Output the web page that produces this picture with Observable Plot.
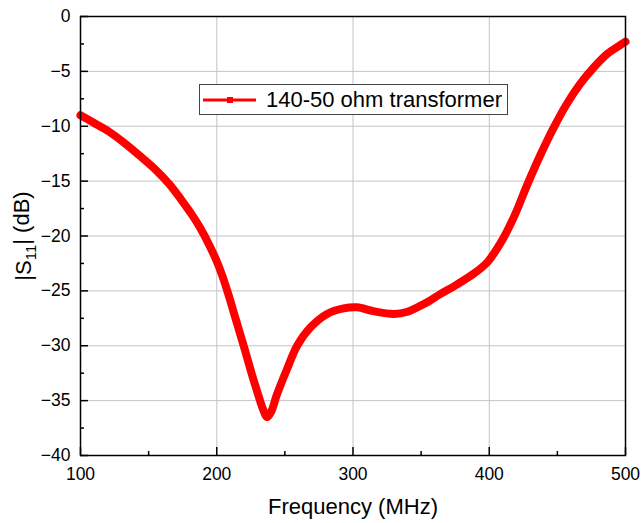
<!DOCTYPE html>
<html><head><meta charset="utf-8">
<script src="https://cdn.jsdelivr.net/npm/d3@7"></script>
<script src="https://cdn.jsdelivr.net/npm/@observablehq/plot@0.6"></script>
<style>
body{margin:0;background:#fff;}
#wrap{position:relative;width:641px;height:523px;font-family:"Liberation Sans",Arial,sans-serif;}
#legend{position:absolute;left:199px;top:84px;width:309px;height:31px;border:1px solid #444;background:#fff;box-sizing:border-box;display:flex;align-items:center;}
#legend span{font-size:22px;color:#000;margin-left:6px;white-space:nowrap;}
</style></head><body><div id="wrap"></div>
<script>
const freq = [100, 110, 121, 133, 145, 155, 165, 174, 182, 188, 194, 200, 204, 208, 214, 220, 226, 230, 234, 237, 240, 244, 252, 259, 269, 281, 293, 303, 315, 330, 340, 352, 364, 376.5, 389, 398.5, 408, 418, 428, 437.6, 447.4, 457, 467, 477, 486.6, 495, 500];
const s11  = [-9.0, -9.7, -10.5, -11.6, -12.85, -13.95, -15.25, -16.7, -18.1, -19.3, -20.7, -22.3, -23.6, -25.1, -27.6, -30.1, -32.7, -34.3, -35.8, -36.5, -36.0, -34.5, -32.0, -30.0, -28.3, -27.1, -26.6, -26.5, -26.85, -27.1, -26.9, -26.2, -25.3, -24.4, -23.4, -22.4, -20.7, -18.3, -15.3, -12.6, -10.1, -7.95, -6.1, -4.6, -3.4, -2.7, -2.3];
const xTicks = [100, 200, 300, 400, 500];
const xMinor = [150, 250, 350, 450];
const yTicks = [0, -5, -10, -15, -20, -25, -30, -35, -40];
const yMinor = [-2.5, -7.5, -12.5, -17.5, -22.5, -27.5, -32.5, -37.5];
const seriesName = "140-50 ohm transformer";
const xLabel = "Frequency (MHz)";
const yLabel = "|S11| (dB)";

const data = freq.map((f, i) => ({f, db: s11[i]}));
const font = '"Liberation Sans", Arial, sans-serif';

const plot = Plot.plot({
  width: 641, height: 523,
  marginLeft: 80, marginRight: 16, marginTop: 16, marginBottom: 68,
  style: {fontFamily: font, fontSize: "17.5px", color: "#000", background: "#fff"},
  x: {domain: [100, 500]},
  y: {domain: [-40, 0]},
  marks: [
    Plot.gridX(xTicks, {stroke: "#c4c4c4", strokeOpacity: 1, strokeWidth: 1}),
    Plot.gridY(yTicks, {stroke: "#c4c4c4", strokeOpacity: 1, strokeWidth: 1}),
    Plot.line(data, {x: "f", y: "db", stroke: "#ff0000", strokeWidth: 8, curve: "catmull-rom", strokeLinejoin: "round"}),
    Plot.axisX(xTicks, {tickSize: 8, dy: -8, text: null, label: null, strokeWidth: 1.5}),
    Plot.axisX(xMinor, {tickSize: 4, dy: -4, text: null, label: null, strokeWidth: 1.5}),
    Plot.axisY(yTicks, {tickSize: 8, dx: 8, text: null, label: null, strokeWidth: 1.5}),
    Plot.axisY(yMinor, {tickSize: 4, dx: 4, text: null, label: null, strokeWidth: 1.5}),
    Plot.axisX(xTicks, {tickSize: 0, tickPadding: 12, label: xLabel, labelAnchor: "center", labelArrow: "none", labelOffset: 58}),
    Plot.axisY(yTicks, {tickSize: 0, tickPadding: 10, label: yLabel, labelAnchor: "center", labelArrow: "none", labelOffset: 65}),
    Plot.frame({stroke: "#000", strokeWidth: 1.5})
  ]
});

const wrap = document.getElementById("wrap");
wrap.appendChild(plot);

const svg = d3.select(plot);
svg.selectAll('g[aria-label="x-axis label"] text').style("font-size", "22px");
svg.selectAll('g[aria-label="y-axis label"] text').each(function() {
  const t = d3.select(this);
  t.style("font-size", "22px");
  t.text(null);
  t.append("tspan").text("|S");
  t.append("tspan").attr("dy", "0.3em").style("font-size", "15px").text("11");
  t.append("tspan").attr("dy", "-0.3em").text("| (dB)");
});

const lg = document.createElement("div");
lg.id = "legend";
lg.innerHTML = `<svg width="58" height="20" style="margin-left:2px"><line x1="1" y1="10" x2="54" y2="10" stroke="#ff0000" stroke-width="3"/><rect x="25" y="7" width="6" height="6" fill="#ff0000"/></svg><span></span>`;
lg.querySelector("span").textContent = seriesName;
wrap.appendChild(lg);
</script>
</body></html>
